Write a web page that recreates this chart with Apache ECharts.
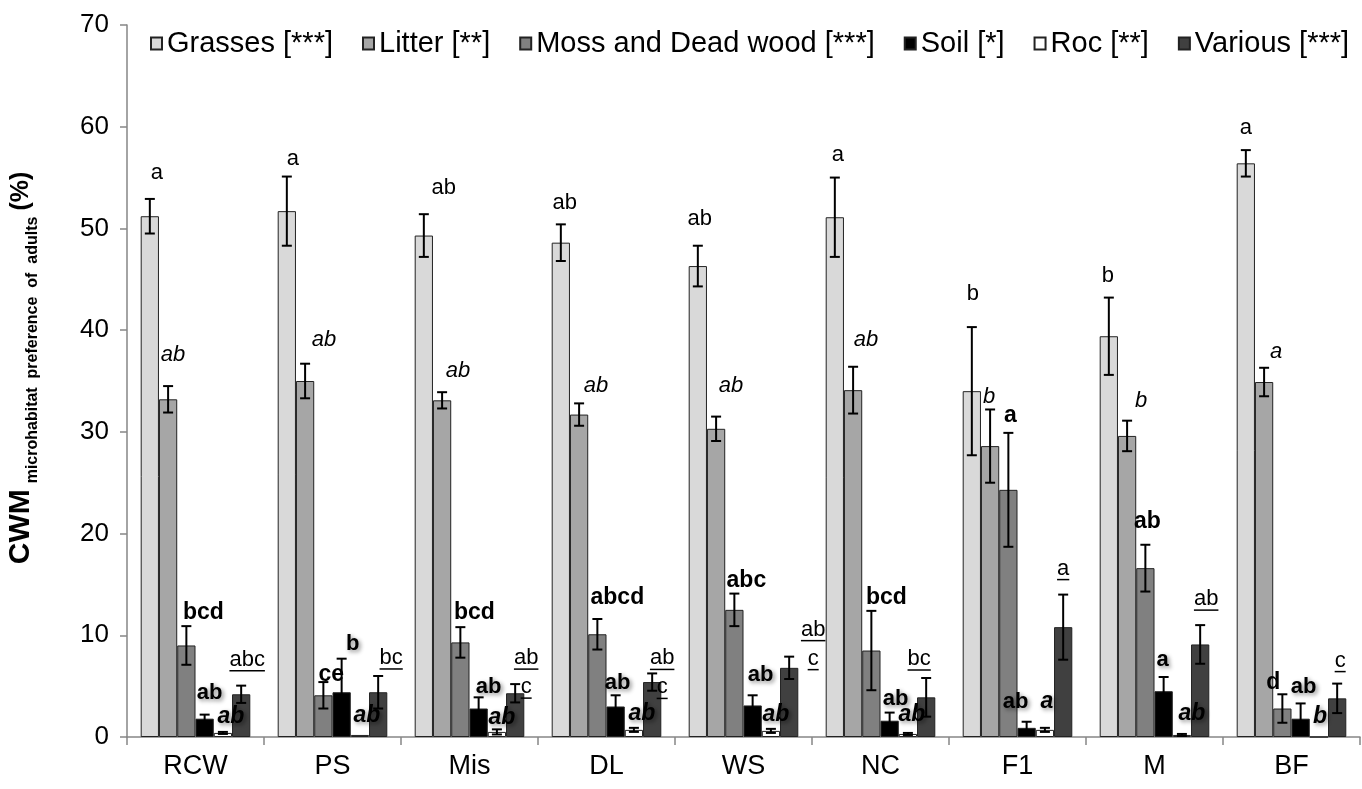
<!DOCTYPE html>
<html>
<head>
<meta charset="utf-8">
<script src="https://cdn.jsdelivr.net/npm/echarts@6/dist/echarts.min.js"></script>
<style>
html,body{margin:0;padding:0;background:#fff;}
#main{width:1362px;height:789px;}
</style>
</head>
<body>
<div id="main"></div>
<script>
// ---------- DATA ----------
const categories = ['RCW','PS','Mis','DL','WS','NC','F1','M','BF'];
const seriesNames = ['Grasses [***]','Litter [**]','Moss and Dead wood [***]','Soil [*]','Roc [**]','Various [***]'];
const yTicks = [0,10,20,30,40,50,60,70];

const grasses    = [51.2,51.7,49.3,48.6,46.3,51.1,34.0,39.4,56.4];
const grassesErr = [1.7,3.4,2.1,1.8,2.0,3.9,6.3,3.8,1.3];
const litter     = [33.2,35.0,33.1,31.7,30.3,34.1,28.6,29.6,34.9];
const litterErr  = [1.3,1.7,0.8,1.1,1.2,2.3,3.6,1.5,1.4];
const moss       = [9.0,4.1,9.3,10.1,12.5,8.5,24.3,16.6,2.8];
const mossErr    = [1.9,1.3,1.5,1.5,1.6,3.9,5.6,2.3,1.4];
const soil       = [1.8,4.4,2.8,3.0,3.1,1.6,0.9,4.5,1.8];
const soilErr    = [0.4,3.3,1.1,1.1,1.0,0.8,0.6,1.4,1.5];
const roc        = [0.4,0.2,0.5,0.7,0.6,0.3,0.7,0.2,0];
const rocErr     = [0.1,0,0.25,0.2,0.2,0.1,0.2,0.1,0];
const various    = [4.2,4.4,4.3,5.4,6.8,3.9,10.8,9.1,3.8];
const variousErr = [0.85,1.6,0.9,0.85,1.1,1.9,3.2,1.9,1.45];

const grassesLetters = ['a','a','ab','ab','ab','a','b','b','a'];
const litterLetters  = ['ab','ab','ab','ab','ab','ab','b','b','a'];
const mossLetters    = ['bcd','ce','bcd','abcd','abc','bcd','a','ab','d'];
const soilLetters    = ['ab','b','ab','ab','ab','ab','ab','a','ab'];
const rocLetters     = ['ab','ab','ab','ab','ab','ab','a','ab','b'];
const variousLetters = ['abc','bc','ab\nc','ab\nc','ab\nc','bc','a','ab','c'];

// ---------- LAYOUT / STYLE (not data) ----------
const FONT = '"Liberation Sans", Arial, sans-serif';
const colors = ['#d9d9d9','#a6a6a6','#808080','#000000','#ffffff','#404040'];
// label nudges in px relative to top of error bar: [dx, dy]
const labelNudge = [
  [[7,-26],[6,-18],[20,-26],[4,-21],[2,-27],[3,-23],[1,-33],[-1,-22],[0,-22]],
  [[5,-31],[19,-24],[16,-21],[17,-18],[15,-31],[13,-27],[-1,-13],[14,-20],[12,-16]],
  [[17,-13],[8,-7],[14,-14],[20,-21],[12,-13],[15,-13],[2,-17],[2,-23],[-9,-12]],
  [[5,-22],[11,-15],[10,-10],[2,-12],[8,-20],[6,-14],[-11,-20],[-1,-17],[3,-16]],
  [[8,-15],[7,-19],[5,-12],[8,-14],[5,-14],[4,-18],[2,-26],[10,-20],[1,-20]],
  [[6,-26],[13,-18],[11,-26],[10,-15],[24,-27],[-7,-19],[0,-26],[6,-26],[3,-23]]
];
const labelStyles = [
  {style:'normal', weight:'normal', size:22},
  {style:'italic', weight:'normal', size:22},
  {style:'normal', weight:'bold', size:23},
  {style:'normal', weight:'bold', size:22, shadow:true},
  {style:'italic', weight:'bold', size:23, shadow:true},
  {style:'normal', weight:'normal', size:22, underline:true}
];

const values = [grasses, litter, moss, soil, roc, various];
const errs = [grassesErr, litterErr, mossErr, soilErr, rocErr, variousErr];
const letters = [grassesLetters, litterLetters, mossLetters, soilLetters, rocLetters, variousLetters];

const mctx = document.createElement('canvas').getContext('2d');
function textW(t, size, weight, style){
  mctx.font = (style||'normal') + ' ' + (weight||'normal') + ' ' + size + 'px "Liberation Sans"';
  return mctx.measureText(t).width;
}

const errData = [];
const labelItems = [];
for (let s = 0; s < 6; s++) {
  for (let c = 0; c < categories.length; c++) {
    errData.push([c, values[s][c], errs[s][c], s]);
    labelItems.push({c, s, top: values[s][c] + errs[s][c], text: letters[s][c], dx: labelNudge[s][c][0], dy: labelNudge[s][c][1]});
  }
}

function barX(api, c, s, v) {
  const catW = api.size([1, 0])[0];
  const barW = catW * 0.8 / 6;
  const p = api.coord([c, v]);
  return [p[0] - catW * 0.4 + barW * (s + 0.5), p[1]];
}

const barSeries = seriesNames.map((name, s) => ({
  name, type: 'bar', data: values[s],
  barGap: '0%', barCategoryGap: '20%',
  itemStyle: {color: colors[s], borderColor: '#222', borderWidth: 1},
  z: 2
}));

const errSeries = {
  name: 'err', type: 'custom', z: 5,
  encode: {x: 0, y: 1},
  data: errData,
  renderItem: (params, api) => {
    const c = api.value(0), v = api.value(1), e = api.value(2), s = api.value(3);
    if (!(e > 0)) return null;
    const [x] = barX(api, c, s, v);
    const yT = api.coord([c, v + e])[1];
    const yB = api.coord([c, Math.max(v - e, 0)])[1];
    const hw = 5;
    const st = {stroke: '#000', lineWidth: 2};
    return {type: 'group', children: [
      {type: 'line', shape: {x1: x, y1: yT, x2: x, y2: yB}, style: st},
      {type: 'line', shape: {x1: x - hw, y1: yT, x2: x + hw, y2: yT}, style: st},
      {type: 'line', shape: {x1: x - hw, y1: yB, x2: x + hw, y2: yB}, style: st}
    ]};
  }
};

const labelSeries = {
  name: 'letters', type: 'custom', z: 6,
  encode: {x: 0, y: 1},
  data: labelItems.map(d => [d.c, d.top]),
  renderItem: (params, api) => {
    const it = labelItems[params.dataIndex];
    const [bx, by] = barX(api, it.c, it.s, it.top);
    const x = bx + it.dx, y = by + it.dy;
    const st = labelStyles[it.s];
    const children = [];
    it.text.split('\n').forEach((ln, i) => {
      const ly = y + i * 29;
      children.push({type: 'text', x: x, y: ly, style: {
        text: ln, fill: '#000', fontSize: st.size, fontWeight: st.weight, fontStyle: st.style,
        fontFamily: FONT, align: 'center', verticalAlign: 'middle',
        textShadowColor: st.shadow ? 'rgba(0,0,0,0.45)' : 'transparent',
        textShadowBlur: st.shadow ? 4 : 0,
        textShadowOffsetX: st.shadow ? 2 : 0,
        textShadowOffsetY: st.shadow ? 2 : 0
      }});
      if (st.underline) {
        const w = textW(ln, st.size, st.weight, st.style);
        children.push({type: 'line', shape: {x1: x - w / 2, y1: ly + 11, x2: x + w / 2, y2: ly + 11}, style: {stroke: '#000', lineWidth: 1.5}});
      }
    });
    return {type: 'group', children};
  }
};

// y-axis title pieces laid out along rotated baseline
const tA = {text: 'CWM', size: 30, weight: 'bold'};
const tB = {text: 'microhabitat  preference  of  adults', size: 16, weight: 'bold'};
const tC = {text: '(%)', size: 25, weight: 'bold'};
const wA = textW(tA.text, tA.size, tA.weight), wB = textW(tB.text, tB.size, tB.weight), wC = textW(tC.text, tC.size, tC.weight);
const gap = 6;
const total = wA + gap + wB + gap + wC;
const x0 = -total / 2;
const titleGroup = {
  type: 'group', x: 36, y: 368, rotation: Math.PI / 2,
  children: [
    {type: 'text', x: x0, y: 0, style: {text: tA.text, fontSize: tA.size, fontWeight: tA.weight, fontFamily: FONT, fill: '#000', align: 'left', verticalAlign: 'bottom'}},
    {type: 'text', x: x0 + wA + gap, y: 5, style: {text: tB.text, fontSize: tB.size, fontWeight: tB.weight, fontFamily: FONT, fill: '#000', align: 'left', verticalAlign: 'bottom'}},
    {type: 'text', x: x0 + wA + gap + wB + gap, y: -2, style: {text: tC.text, fontSize: tC.size, fontWeight: tC.weight, fontFamily: FONT, fill: '#000', align: 'left', verticalAlign: 'bottom'}}
  ]
};

const chart = echarts.init(document.getElementById('main'));
chart.setOption({
  animation: false,
  backgroundColor: '#fff',
  textStyle: {fontFamily: FONT},
  grid: {left: 127, right: 2, top: 25, bottom: 52, containLabel: false},
  legend: {
    data: seriesNames, left: 145, top: 24, icon: 'rect', itemWidth: 11, itemHeight: 12, itemGap: 29,
    textStyle: {fontSize: 29, color: '#000', fontFamily: FONT}
  },
  xAxis: {
    type: 'category', data: categories, boundaryGap: true,
    axisLine: {lineStyle: {color: '#868686', width: 1.5}},
    axisTick: {show: true, length: 8, alignWithLabel: false, lineStyle: {color: '#868686', width: 1.5}},
    axisLabel: {fontSize: 27, color: '#000', margin: 16, fontFamily: FONT}
  },
  yAxis: {
    type: 'value', min: yTicks[0], max: yTicks[yTicks.length - 1], interval: 10,
    axisLine: {show: true, lineStyle: {color: '#868686', width: 1.5}},
    axisTick: {show: true, length: 7, lineStyle: {color: '#868686', width: 1.5}},
    splitLine: {show: false},
    axisLabel: {fontSize: 26, color: '#000', margin: 18, fontFamily: FONT}
  },
  graphic: [titleGroup],
  series: [...barSeries, errSeries, labelSeries]
});
</script>
</body>
</html>
